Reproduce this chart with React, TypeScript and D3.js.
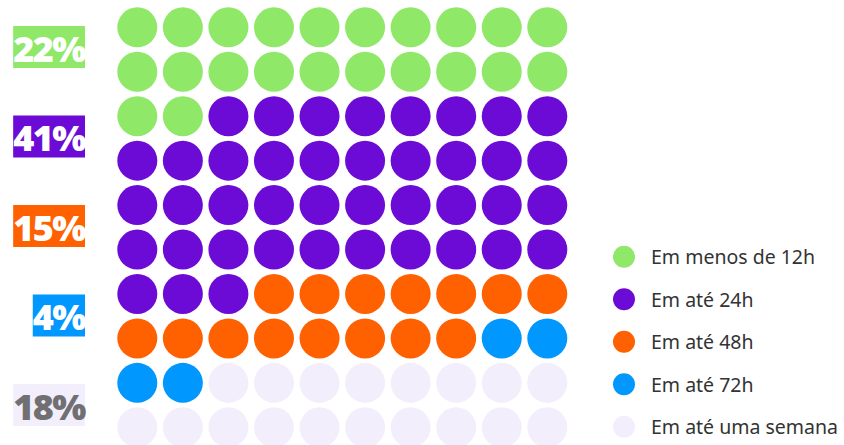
import React, { useEffect, useRef } from "react";
import * as d3 from "d3";

// categories and their share out of 100 dots
const categories = ["Em menos de 12h", "Em até 24h", "Em até 48h", "Em até 72h", "Em até uma semana"];
const values = [22, 41, 15, 4, 18];
const colors = ["#8fe867", "#6c0bd6", "#ff6100", "#0097ff", "#f3eefc"];
const labelColors = ["#ffffff", "#ffffff", "#ffffff", "#ffffff", "#707073"];

const App = () => {
  const ref = useRef<SVGSVGElement | null>(null);
  const width = 844;
  const height = 445;

  useEffect(() => {
    const svg = d3.select(ref.current);
    svg.selectAll("*").remove();

    // one entry per dot, filled row by row
    const dots: { i: number; cat: number }[] = [];
    values.forEach((v, c) => {
      for (let k = 0; k < v; k++) dots.push({ i: dots.length, cat: c });
    });

    const x = d3.scalePoint<number>().domain(d3.range(10)).range([137.3, 547.3]);
    const y = d3.scalePoint<number>().domain(d3.range(10)).range([27.3, 427.3]);

    svg
      .append("g")
      .selectAll("circle")
      .data(dots)
      .enter()
      .append("circle")
      .attr("cx", (d) => x(d.i % 10)!)
      .attr("cy", (d) => y(Math.floor(d.i / 10))!)
      .attr("r", 20)
      .attr("fill", (d) => colors[d.cat]);

    // percentage badges on the left
    const ly = d3.scalePoint<number>().domain(d3.range(values.length)).range([47, 405]);
    const labels = svg.append("g");
    values.forEach((v, c) => {
      const g = labels.append("g");
      const rect = g.append("rect").attr("fill", colors[c]);
      const t = g
        .append("text")
        .attr("x", 85)
        .attr("y", ly(c)! + 1)
        .attr("text-anchor", "end")
        .attr("dominant-baseline", "central")
        .style("font-family", "'Open Sans', 'DejaVu Sans', sans-serif")
        .style("font-weight", 800)
        .style("font-size", "36px")
        .style("letter-spacing", "-1.5px")
        .style("fill", labelColors[c])
        .text(`${v}%`);
      const box = (t.node() as SVGTextElement).getBBox();
      rect
        .attr("x", box.x)
        .attr("y", ly(c)! - 21)
        .attr("width", 85 - box.x)
        .attr("height", 42);
    });

    // legend
    const legY = d3.scalePoint<number>().domain(d3.range(categories.length)).range([256.7, 426.7]);
    const leg = svg
      .append("g")
      .selectAll("g")
      .data(categories)
      .enter()
      .append("g")
      .attr("transform", (d, i) => `translate(624, ${legY(i)})`);
    leg
      .append("circle")
      .attr("r", 11)
      .attr("fill", (d, i) => colors[i]);
    leg
      .append("text")
      .attr("x", 27)
      .attr("dominant-baseline", "central")
      .style("font-family", "'Noto Sans', sans-serif")
      .style("font-size", "19.5px")
      .style("fill", "#333333")
      .text((d) => d);
  }, []);

  return (
    <svg
      ref={ref}
      width={width}
      height={height}
      style={{ position: "absolute", left: 0, top: 0, background: "#ffffff" }}
    />
  );
};

export default App;
